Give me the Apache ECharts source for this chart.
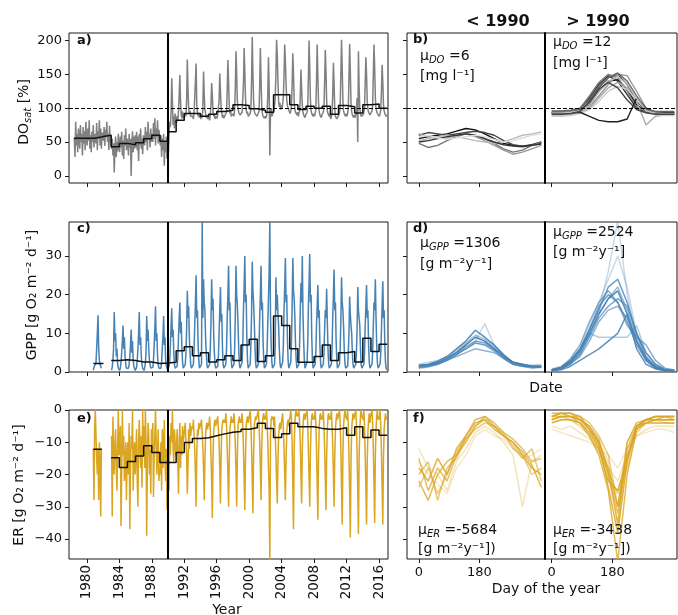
<!DOCTYPE html>
<html><head><meta charset="utf-8">
<script src="https://cdn.jsdelivr.net/npm/echarts@6/dist/echarts.min.js"></script>
<style>html,body{margin:0;padding:0;background:#fff}#c{width:678px;height:615px}</style>
</head><body><div id="c"></div>
<script>
const FONT = 'DejaVu Sans';
const YEAR_TICKS = [1980,1984,1988,1992,1996,2000,2004,2008,2012,2016];
const DOY_TICKS = [0,180];
const DAYS = [0,28,56,84,112,140,168,196,224,252,280,308,336,364];
const n = null;

// ---- panel a: DO saturation, monthly values per year from 1978
const DO_START = 1978;
const doRaw = [
 [n,n,n,n,n,55,28,80,45,62,35,70],
 [58,40,75,50,62,30,72,48,66,38,80,55],
 [45,70,52,82,40,60,35,65,50,75,42,62],
 [60,48,78,38,66,55,82,45,70,40,64,58],
 [52,72,44,68,58,80,50,62,38,74,55,48],
 [40,55,30,48,5,42,58,28,50,36,62,45],
 [35,58,42,65,30,52,25,60,45,70,38,55],
 [50,30,62,42,55,0,48,66,35,58,40,60],
 [42,65,38,58,22,62,45,70,40,55,32,60],
 [58,45,72,50,65,38,80,55,62,42,70,50],
 [62,50,78,55,85,45,70,58,82,48,68,60],
 [45,60,28,55,38,62,15,50,35,58,25,48],
 [30,60,80,72,95,144,110,75,88,70,92,85],
 [78,88,82,95,120,149,110,90,85,95,88,84],
 [86,92,88,110,172,130,100,92,96,88,90,86],
 [88,84,95,115,140,166,105,94,88,92,86,90],
 [84,90,86,100,154,120,98,92,86,90,84,88],
 [86,82,90,105,137,118,95,88,92,84,88,86],
 [85,90,88,112,151,126,100,94,86,90,85,88],
 [88,86,94,125,171,140,104,92,96,88,90,86],
 [92,88,98,130,184,150,110,100,94,96,90,92],
 [90,94,96,135,189,155,115,98,92,95,88,90],
 [88,92,98,140,205,150,110,96,92,90,94,88],
 [86,90,95,130,189,145,104,92,88,90,85,88],
 [85,88,94,120,175,130,30,95,100,88,90,86],
 [96,104,115,150,201,178,140,110,102,108,98,104],
 [100,106,118,148,194,170,136,112,104,100,98,102],
 [92,96,104,135,181,150,110,98,94,92,90,94],
 [88,92,96,115,157,130,104,94,90,88,86,90],
 [90,94,100,145,200,160,112,96,92,90,88,92],
 [88,92,98,140,194,150,108,95,90,88,86,90],
 [90,94,100,138,186,155,110,96,92,90,88,92],
 [84,88,92,120,167,135,98,88,86,84,82,86],
 [90,94,102,150,201,160,112,96,92,90,88,92],
 [88,92,100,145,195,155,108,95,90,88,86,90],
 [86,90,95,115,50,184,130,100,92,88,86,88],
 [90,94,100,138,175,150,110,98,94,92,90,92],
 [92,96,104,150,194,160,115,100,95,92,90,94],
 [88,92,98,125,164,140,105,96,92,90,88,90]
];
const doMeanX = [1978.4,1981,1982,1983,1984,1985,1986,1987,1988,1989,1990,1991,1992,1993,1994,1995,1996,1997,1998,1999,2000,2001,2002,2003,2004,2005,2006,2007,2008,2009,2010,2011,2012,2013,2014,2015,2016,2017];
const doMeanY = [55.5,58,60,43,48,46,49,55,60,51,65,82,92,92,88,91,95,97,105,104,99,97,94,120,120,105,98,103,100,103,91,104,102,93,105,106,100];

// ---- panel c: GPP, monthly values per year from 1980
const GPP_START = 1980;
const gppRaw = [
 [n,n,n,n,n,n,n,n,n,0.5,1.2,0.8],
 [1,2.5,6,10,14.7,6,3,2,1.5,1,n,n],
 [n,n,n,n,n,n,n,n,n,n,n,n],
 [0.5,1.2,3,6,15.5,8,10,4,6,2,1,0.5],
 [0.4,1,2.5,5,8,12,6,9,4,2,1,0.5],
 [0.5,1,2,4,7,11,5,8,3,1.5,1,0.4],
 [0.5,1.2,3,6,10,15.5,7,9,4,2,1,0.5],
 [0.4,1,2.5,5,14.5,8,11,6,3,2,1,0.5],
 [0.5,1.2,3,7,11,17,8,10,4,2,1,0.5],
 [0.5,1,2.5,6,9,14.5,7,9,3,1.5,1,0.5],
 [0.6,1.5,3,7,12,16.5,9,11,5,2,1,0.5],
 [0.5,1.5,4,9,14,18,10,13,6,2.5,1,0.5],
 [0.6,2,5,11,21,14,17,9,5,2,1,0.5],
 [0.5,2,6,12,18,25,14,16,7,3,1,0.5],
 [0.6,2,39,14,24,18,16,9,5,2,1,0.5],
 [0.5,2,6,13,24,16,19,10,5,2,1,0.5],
 [0.5,1.5,4,10,16,22,13,15,6,2,1,0.5],
 [0.6,2,6,14,20,27.5,16,18,8,3,1,0.5],
 [0.5,2,6,15,27.5,20,17,12,6,2,1,0.5],
 [0.6,2.5,7,16,22,30,18,20,9,3,1,0.5],
 [0.5,2,7,15,28.5,21,18,13,7,2.5,1,0.5],
 [0.6,2,6,14,20,27.5,16,18,8,3,1,0.5],
 [0.5,2,6,13,19,26,39,14,7,2.5,1,0.5],
 [0.6,2,7,24.5,16,20,15,12,6,2.5,1,0.5],
 [0.5,2.5,7,16,22,29.5,18,20,9,3,1,0.5],
 [0.6,2.5,8,17,29.5,21,19,14,7,3,1,0.5],
 [0.5,2,7,16,23,18,30,15,8,3,1,0.5],
 [0.6,2.5,7,17,23,30.5,18,20,9,3,1,0.5],
 [0.5,2,5,12,17,22.5,14,16,7,2.5,1,0.5],
 [0.5,2,5,11,16,14,21.5,13,6,2,1,0.5],
 [0.6,2,6,14,20,26.5,16,18,8,3,1,0.5],
 [0.5,2,6,13,24.5,18,16,12,6,2.5,1,0.5],
 [0.5,1.5,5,10,19.5,15,12,10,5,2,1,0.5],
 [0.5,2,5,11,22,16,14,12,6,2,1,0.5],
 [0.6,2,5,12,17,22.5,14,16,7,2.5,1,0.5],
 [0.5,2,5,12,18,16,24,14,7,2.5,1,0.5],
 [0.5,2,5,11,17,23.5,14,16,7,2.5,1,0.5]
];
const gppMeanX = [1980.8,1982.05,1983,1984,1985,1986,1987,1988,1989,1990,1991,1992,1993,1994,1995,1996,1997,1998,1999,2000,2001,2002,2003,2004,2005,2006,2007,2008,2009,2010,2011,2012,2013,2014,2015,2016,2017];
const gppMeanY = [2.2,null,3.0,3.2,3.0,2.6,2.6,2.2,2.3,2.5,5.5,6.5,4.2,5.0,2.6,3.2,4.2,3.0,7.0,8.5,2.7,4.2,14.5,12.0,6.0,2.5,2.5,4.0,7.0,3.0,5.0,5.3,2.6,8.7,5.3,7.2];

// ---- panel e: ER, monthly values per year from 1980
const ER_START = 1980;
const erRaw = [
 [n,n,n,n,n,n,n,n,n,-12,-28,-6],
 [0,-8,-15,-20,-12,-28,-10,-16,-33,-12,n,n],
 [n,n,n,n,n,n,n,n,n,n,n,n],
 [-8,-33,-2,-15,-20,-10,-6,-18,-25,-12,0,-14],
 [-12,-5,-36,-20,0,-14,-8,-22,-18,-10,-28,-15],
 [-10,-20,-4,-37,-18,-8,-12,0,-25,-16,-10,-20],
 [-14,-6,-22,-30,-10,-3,-12,-18,-8,-24,0,-12],
 [-5,-18,0,-10,-39,-15,-4,-8,-20,-12,-26,-6],
 [-12,-4,-27,-15,-8,0,-10,-20,-14,-6,-22,-18],
 [-20,-10,-25,-6,-18,-14,-3,-16,-22,-12,-31,-24],
 [-18,-25,-8,-14,-4,-10,0,-12,-16,-6,-10,-14],
 [-12,-6,-16,-26,-10,-4,-18,-8,-14,-5,-10,-8],
 [-8,-4,-10,-14,-26,-18,-6,-12,-4,-8,-6,-5],
 [-6,-3,-8,-12,-20,-30,-14,-6,-8,-4,-6,-5],
 [-5,-3,-7,-12,-18,-28,-16,-8,-5,-4,-6,-4],
 [-5,-2,-6,-14,-22,-33.5,-15,-7,-4,-3,-5,-4],
 [-4,-2,-6,-10,-18,-29,-14,-6,-4,-3,-4,-3],
 [-4,-1,-5,-12,-20,-30,-16,-6,-4,-2,-4,-3],
 [-4,-1,-5,-11,-19,-30,-14,-5,-3,-2,-4,-3],
 [-4,-1,-5,-12,-21,-31,-15,-5,-3,-2,-4,-3],
 [-3,0,-4,-12,-22,-32,-14,-5,-3,-2,-3,-3],
 [-3,0,-4,-10,-18,-28,-12,-4,-2,-1,-3,-2],
 [-3,0,-4,-10,-18,-25,-47,-8,-3,-2,-3,-2],
 [-5,-2,-8,-14,-22,-29,-16,-8,-5,-4,-6,-4],
 [-4,-1,-6,-12,-20,-28,-15,-7,-4,-3,-5,-3],
 [-2,0,-3,-10,-24,-37,-12,-4,-1,0,-2,-1],
 [-2,0,-4,-10,-20,-29,-12,-5,-2,-1,-3,-2],
 [-2,0,-4,-12,-21,-30,-13,-5,-2,-1,-3,-2],
 [-3,0,-4,-12,-23,-34,-14,-5,-2,-1,-3,-2],
 [-3,0,-5,-12,-21,-31,-14,-6,-2,-1,-3,-2],
 [-3,0,-5,-11,-20,-30,-14,-6,-3,-1,-3,-2],
 [-2,0,-4,-12,-24,-35.5,-14,-5,-2,0,-2,-2],
 [-3,0,-5,-14,-26,-39.5,-16,-6,-3,-1,-3,-2],
 [-2,0,-4,-13,-25,-38.5,-15,-6,-2,0,-2,-2],
 [-3,0,-5,-14,-24,-35.5,-16,-7,-3,-1,-4,-2],
 [-2,0,-4,-12,-23,-35,-14,-6,-2,0,-3,-2],
 [-3,0,-5,-13,-24,-35.5,-15,-6,-3,-1,-3,-2]
];
const erMeanX = [1980.8,1981.85,1983,1984,1985,1986,1987,1988,1989,1990,1991,1992,1993,1994,1995,1996,1997,1998,1999,2000,2001,2002,2003,2004,2005,2006,2007,2008,2009,2010,2011,2012,2013,2014,2015,2016,2017];
const erMeanY = [-12.2,null,-14.8,-17.8,-16,-14.3,-11.1,-13.2,-16.3,-16.3,-13.2,-10.1,-8.8,-8.6,-8.0,-7.4,-6.9,-6.7,-6.0,-5.5,-4.1,-5.7,-8.5,-7.4,-4.1,-5.2,-5.2,-5.7,-6.0,-6.0,-5.5,-7.8,-5.2,-8.5,-6.2,-7.8];

// ---- panel b: DO seasonal curves
const doPre = [
 [55,58,60,62,66,70,68,62,55,48,45,44,46,50],
 [60,64,62,60,62,64,66,64,60,52,46,44,45,48],
 [48,42,45,52,58,62,60,55,48,40,35,38,45,50],
 [62,58,55,56,60,62,58,52,45,38,32,35,40,45],
 [52,55,58,60,58,55,52,50,48,50,55,60,62,65],
 [50,52,55,58,60,62,60,55,50,46,44,43,45,47],
 [58,60,56,54,56,58,60,58,54,50,52,56,60,62]
];
const doPreColors = ['#111','#444','#777','#999','#bbb','#333','#ddd'];
const doPost = [
 [92,92,93,95,105,125,140,142,128,105,95,93,92,92],
 [93,93,94,98,115,135,148,140,120,100,94,93,93,92],
 [94,94,95,97,108,130,145,150,135,110,96,94,93,93],
 [95,95,96,100,118,138,150,145,125,102,95,94,94,94],
 [92,93,94,96,102,118,135,150,148,125,100,94,93,93],
 [90,90,91,93,100,115,130,138,130,110,75,88,90,90],
 [88,88,89,92,98,110,125,132,128,112,98,90,89,89],
 [93,93,93,94,88,82,80,80,84,115,100,94,93,93],
 [96,96,97,100,112,132,145,152,140,118,98,95,95,95],
 [93,93,94,96,104,124,140,146,136,115,96,93,92,92],
 [91,91,92,95,110,128,138,130,112,98,93,91,91,91]
];
const doPostColors = ['#111','#333','#555','#777','#999','#aaa','#ccc','#222','#666','#bbb','#444'];

// ---- panel d: GPP seasonal curves
const gppPre = [
 [1.5,1.8,2.5,3.5,5,7,9,8,6,4,2.5,2,1.5,1.5],
 [1.2,1.5,2,3,4.5,6,7.5,7,5.5,3.5,2,1.5,1.2,1.2],
 [1.8,2,2.8,4,6,8,10.8,9,7,4.5,2.5,1.8,1.5,1.5],
 [1,1.3,2,3,4,5,6,5.5,5,3.5,2,1.5,1,1.2],
 [2,2.5,3,4,5,6,8,12.5,7,4,2.5,2,1.8,2],
 [1.5,1.8,2.2,3.2,4.5,6.5,8,7.5,6,4,2.5,1.8,1.5,1.5],
 [1.3,1.6,2.4,3.6,5.5,7.5,9.5,8.5,6.5,4.2,2.2,1.6,1.4,1.3]
];
const gppPreAlpha = [1,0.8,0.9,0.6,0.3,0.7,0.5];
const gppPost = [
 [0.5,1,2.5,5.5,10,15,19,21,15,8,3.5,1.5,0.5,0.3],
 [0.4,0.8,2,4.5,9,14,17,19,17,10,4,1.2,0.4,0.3],
 [0.6,1.2,3,6,11,16,22,24,18,10,5,2,0.6,0.4],
 [0.5,1,2.2,4,8,13,16,17,14,8,3,1,0.5,0.3],
 [0.5,1,2.5,5,10,16,26,39,20,8,3,1,0.5,0.3],
 [0.5,1,2.8,5.5,11,17,20,18,13,7,3,1,0.4,0.3],
 [0.3,0.6,1.5,3,4.5,6,8,10,15,6,2,0.8,0.3,0.2],
 [0.8,1.5,3,6,10,9,9,9,9,12,5,2,0.8,0.5],
 [0.5,1.2,3.5,7,13,18,21,18,12,9,7,3,1,0.5],
 [0.6,1.2,3,6,12,18,24,30,22,10,4,1.5,0.6,0.4],
 [0.4,0.9,2.2,4.8,9.5,15,19,22,16,9,3.5,1.2,0.4,0.3]
];
const gppPostAlpha = [0.9,0.7,0.8,0.6,0.3,0.75,0.85,0.4,0.65,0.3,0.55];

// ---- panel f: ER seasonal curves
const erPre = [
 [-18,-22,-15,-20,-12,-8,-4,-3,-6,-8,-10,-14,-18,-20],
 [-15,-25,-18,-22,-14,-10,-5,-2,-4,-7,-9,-12,-16,-15],
 [-20,-16,-28,-18,-15,-9,-6,-4,-5,-8,-11,-15,-12,-22],
 [-12,-18,-20,-25,-16,-12,-7,-5,-7,-10,-14,-30,-16,-14],
 [-22,-28,-20,-16,-14,-8,-3,-2,-5,-8,-10,-13,-17,-24],
 [-16,-20,-23,-26,-18,-14,-8,-6,-8,-9,-12,-15,-14,-12],
 [-24,-18,-26,-20,-13,-9,-5,-3,-5,-7,-12,-14,-20,-18]
];
const erPreAlpha = [0.8,0.7,0.6,0.3,0.75,0.25,0.55];
const erPost = [
 [-3,-2,-2,-3,-6,-10,-18,-30,-10,-4,-3,-3,-3,-3],
 [-2,-1,-1,-3,-5,-9,-20,-35,-12,-5,-3,-3,-2,-2],
 [-4,-3,-3,-4,-7,-12,-22,-25,-15,-6,-4,-4,-4,-4],
 [-5,-6,-5,-7,-9,-12,-18,-22,-14,-8,-6,-5,-5,-5],
 [-1,-1,-2,-4,-8,-14,-25,-47,-20,-6,-3,-2,-2,-2],
 [-3,-2,-2,-2,-4,-8,-14,-30,-14,-5,-4,-3,-3,-3],
 [-6,-7,-8,-9,-10,-12,-14,-18,-12,-8,-7,-6,-6,-7],
 [-2,-1,-1,-2,-6,-11,-24,-38,-16,-5,-3,-2,-2,-2],
 [-3,-2,-3,-5,-8,-13,-19,-26,-18,-7,-4,-3,-3,-3],
 [-4,-3,-3,-4,-6,-10,-16,-36,-10,-5,-4,-3,-4,-4],
 [-2,-2,-2,-3,-5,-10,-20,-32,-15,-5,-3,-2,-2,-3]
];
const erPostAlpha = [0.8,0.7,0.9,0.3,0.75,0.6,0.25,0.85,0.5,0.35,0.65];

// ---------- builders ----------
function tsData(rows, start) {
  const out = [];
  rows.forEach((r, i) => r.forEach((v, k) => out.push([start + i + (k + 0.5) / 12, v])));
  return out;
}
function stepData(xs, ys) {
  const out = [];
  ys.forEach((v, i) => {
    if (v == null) { out.push([xs[i], null]); return; }
    out.push([xs[i], v], [xs[i + 1], v]);
  });
  return out;
}
function dayData(vals) { return DAYS.map((d, i) => [d, vals[i]]); }
const minus = v => String(v).replace('-', '\u2212');

const BORDER = '#1a1a1a';
const grids = [
  {left: 69, top: 33, width: 319, height: 150},
  {left: 69, top: 222, width: 319, height: 150},
  {left: 69, top: 410, width: 319, height: 149},
  {left: 407, top: 33, width: 138, height: 150},
  {left: 545, top: 33, width: 132, height: 150},
  {left: 407, top: 222, width: 138, height: 150},
  {left: 545, top: 222, width: 132, height: 150},
  {left: 407, top: 410, width: 138, height: 149},
  {left: 545, top: 410, width: 132, height: 149}
].map(g => Object.assign({show: true, borderColor: BORDER, borderWidth: 1, containLabel: false}, g));

const tickStyle = {show: true, inside: false, length: 4, lineStyle: {color: BORDER, width: 1}};
const labStyle = {fontSize: 13, color: '#111', fontFamily: FONT};

function xAxisTime(gi, labels) {
  return {type: 'value', gridIndex: gi, min: 1977.8, max: 2017.1,
    axisLine: {show: false, onZero: false}, splitLine: {show: false},
    axisTick: Object.assign({customValues: YEAR_TICKS}, tickStyle),
    axisLabel: Object.assign({show: labels, customValues: YEAR_TICKS, rotate: 90, margin: 6, formatter: v => String(v)}, labStyle, {fontSize: 13.5})};
}
function xAxisDay(gi, min, max, labels) {
  return {type: 'value', gridIndex: gi, min: min, max: max,
    axisLine: {show: false, onZero: false}, splitLine: {show: false},
    axisTick: Object.assign({customValues: DOY_TICKS}, tickStyle),
    axisLabel: Object.assign({show: labels, customValues: DOY_TICKS, margin: 7}, labStyle)};
}
function yAxisV(gi, min, max, ticks, labels, divider) {
  return {type: 'value', gridIndex: gi, min: min, max: max,
    axisLine: divider ? {show: true, onZero: false, lineStyle: {color: '#000', width: 2}} : {show: false, onZero: false},
    splitLine: {show: false},
    axisTick: divider ? {show: false} : Object.assign({customValues: ticks}, tickStyle),
    axisLabel: Object.assign({show: labels, customValues: ticks, margin: 7, formatter: minus}, labStyle)};
}

const DO_T = [0,50,100,150,200], GPP_T = [0,10,20,30], ER_T = [0,-10,-20,-30,-40];
const DO_R = [-10.5, 211], GPP_R = [0, 38.8], ER_R = [-46.2, 0];

const xAxes = [
  xAxisTime(0, false), xAxisTime(1, false), xAxisTime(2, true),
  xAxisDay(3, -35, 375, false), xAxisDay(4, -20, 372, false),
  xAxisDay(5, -35, 375, false), xAxisDay(6, -20, 372, false),
  xAxisDay(7, -35, 375, true), xAxisDay(8, -20, 372, true)
];
const yAxes = [
  yAxisV(0, DO_R[0], DO_R[1], DO_T, true), yAxisV(1, GPP_R[0], GPP_R[1], GPP_T, true), yAxisV(2, ER_R[0], ER_R[1], ER_T, true),
  yAxisV(3, DO_R[0], DO_R[1], DO_T, false), yAxisV(4, DO_R[0], DO_R[1], DO_T, false, true),
  yAxisV(5, GPP_R[0], GPP_R[1], GPP_T, false), yAxisV(6, GPP_R[0], GPP_R[1], GPP_T, false, true),
  yAxisV(7, ER_R[0], ER_R[1], ER_T, false), yAxisV(8, ER_R[0], ER_R[1], ER_T, false, true)
];

const series = [];
function line(gi, data, color, width, extra) {
  series.push(Object.assign({type: 'line', xAxisIndex: gi, yAxisIndex: gi, data: data, showSymbol: false, symbol: 'none',
    silent: true, animation: false, clip: true, connectNulls: false,
    lineStyle: {color: color, width: width}}, extra || {}));
}
const vline = {markLine: {silent: true, symbol: ['none', 'none'], label: {show: false}, animation: false,
  lineStyle: {color: '#000', width: 2, type: 'solid'}, data: [{xAxis: 1990}]}};
const hline = {markLine: {silent: true, symbol: ['none', 'none'], label: {show: false}, animation: false,
  lineStyle: {color: '#000', width: 1, type: [4, 2]}, data: [{yAxis: 100}]}};

const GREY = '#808080', BLUE = 'rgb(70,130,180)', GOLD = 'rgb(218,165,32)';
line(0, tsData(doRaw, DO_START), GREY, 1.5);
line(0, stepData(doMeanX, doMeanY), '#111', 1.5, vline);
line(0, [], '#000', 1, hline);
line(1, tsData(gppRaw, GPP_START), BLUE, 1.5);
line(1, stepData(gppMeanX, gppMeanY), '#111', 1.5, vline);
line(2, tsData(erRaw, ER_START), GOLD, 1.5);
line(2, stepData(erMeanX, erMeanY), '#111', 1.5, vline);

doPre.forEach((c, i) => line(3, dayData(c), doPreColors[i], 1.4));
line(3, [], '#000', 1, hline);
doPost.forEach((c, i) => line(4, dayData(c), doPostColors[i], 1.4));
line(4, [], '#000', 1, hline);
gppPre.forEach((c, i) => line(5, dayData(c), 'rgba(70,130,180,' + gppPreAlpha[i] + ')', 1.5));
gppPost.forEach((c, i) => line(6, dayData(c), 'rgba(70,130,180,' + gppPostAlpha[i] + ')', 1.5));
erPre.forEach((c, i) => line(7, dayData(c), 'rgba(218,165,32,' + erPreAlpha[i] + ')', 1.5));
erPost.forEach((c, i) => line(8, dayData(c), 'rgba(218,165,32,' + erPostAlpha[i] + ')', 1.5));

// ---------- texts ----------
const SUB = {fontSize: 10, fontStyle: 'italic', fontFamily: FONT, fill: '#111', verticalAlign: 'bottom', lineHeight: 18};
function txt(x, y, text, opts) {
  opts = opts || {};
  return {type: 'text', x: x, y: y, rotation: opts.rot || 0, silent: true, z: 100,
    style: {text: text, fontSize: opts.size || 14, fontWeight: opts.bold ? 'bold' : 'normal', fontFamily: FONT, fill: '#111',
      align: opts.align || 'left', verticalAlign: 'middle', lineHeight: 18,
      rich: {s: SUB, b: {fontSize: opts.size || 14, fontFamily: FONT, fill: '#111', lineHeight: 18, verticalAlign: 'middle'}}}};
}
const graphic = [
  txt(498, 22, '< 1990', {bold: true, size: 16, align: 'center'}),
  txt(598, 22, '> 1990', {bold: true, size: 16, align: 'center'}),
  txt(77, 41, 'a)', {bold: true, size: 13}),
  txt(413, 40, 'b)', {bold: true, size: 13}),
  txt(77, 229, 'c)', {bold: true, size: 13}),
  txt(413, 229, 'd)', {bold: true, size: 13}),
  txt(77, 419, 'e)', {bold: true, size: 13}),
  txt(413, 419, 'f)', {bold: true, size: 13}),
  txt(420, 56, '{b|μ}{s|DO}{b| =6}'),
  txt(420, 76, '[mg l\u207b\u00b9]'),
  txt(553, 42, '{b|μ}{s|DO}{b| =12}'),
  txt(553, 63, '[mg l\u207b\u00b9]'),
  txt(420, 243, '{b|μ}{s|GPP}{b| =1306}'),
  txt(420, 264, '[g m\u207b\u00b2y\u207b\u00b9]'),
  txt(553, 232, '{b|μ}{s|GPP}{b| =2524}'),
  txt(553, 252, '[g m\u207b\u00b2y\u207b\u00b9]'),
  txt(418, 530, '{b|μ}{s|ER}{b| =-5684}'),
  txt(418, 549, '[g m\u207b\u00b2y\u207b\u00b9])'),
  txt(553, 530, '{b|μ}{s|ER}{b| =-3438}'),
  txt(553, 549, '[g m\u207b\u00b2y\u207b\u00b9])'),
  txt(546, 388, 'Date', {align: 'center'}),
  txt(546, 589, 'Day of the year', {align: 'center'}),
  txt(227, 610, 'Year', {align: 'center'}),
  txt(24, 112, '{b|DO}{s|sat}{b| [%]}', {rot: Math.PI / 2, align: 'center'}),
  txt(32, 295, 'GPP [g O\u2082 m\u207b\u00b2 d\u207b\u00b9]', {rot: Math.PI / 2, align: 'center'}),
  txt(19, 485, 'ER [g O\u2082 m\u207b\u00b2 d\u207b\u00b9]', {rot: Math.PI / 2, align: 'center'})
];

const chart = echarts.init(document.getElementById('c'), null, {renderer: 'canvas', width: 678, height: 615});
chart.setOption({
  animation: false,
  backgroundColor: '#fff',
  textStyle: {fontFamily: FONT},
  grid: grids,
  xAxis: xAxes,
  yAxis: yAxes,
  series: series,
  graphic: graphic
});
</script>
</body></html>
